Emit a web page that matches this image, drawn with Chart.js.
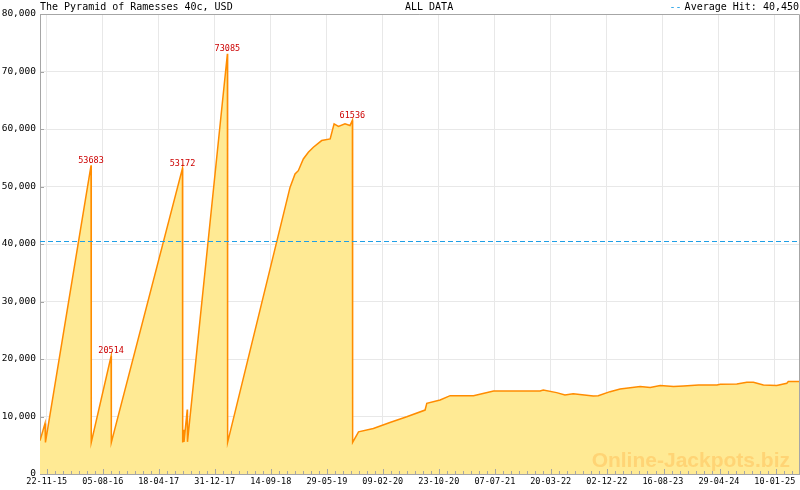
<!DOCTYPE html>
<html><head><meta charset="utf-8">
<script src="https://cdn.jsdelivr.net/npm/chart.js@4/dist/chart.umd.min.js"></script>
<style>html,body{margin:0;padding:0;background:#fff;}canvas{display:block;}</style>
</head><body>
<canvas id="c" width="800" height="490" style="width:800px;height:490px"></canvas>
<script>
const titleText = 'The Pyramid of Ramesses 40c, USD';
const rangeText = 'ALL DATA';
const averageText = 'Average Hit: 40,450';
const averageHit = 40450;
const watermarkText = 'Online-Jackpots.biz';
const tickLabels = ['22-11-15','05-08-16','18-04-17','31-12-17','14-09-18','29-05-19','09-02-20','23-10-20','07-07-21','20-03-22','02-12-22','16-08-23','29-04-24','10-01-25'];
const yTickValues = [0,10000,20000,30000,40000,50000,60000,70000,80000];
const dates = [
'2015-10-22','2015-11-14','2015-11-16','2016-06-12','2016-06-13','2016-09-12','2016-09-13','2017-08-05','2017-08-06','2017-08-10',
'2017-08-12','2017-08-27','2017-08-28','2018-02-27','2018-02-28','2018-12-11','2019-01-03','2019-01-18','2019-02-10','2019-03-05',
'2019-03-28','2019-05-05','2019-06-13','2019-07-01','2019-07-21','2019-08-20','2019-09-12','2019-09-23','2019-09-24','2019-10-21',
'2019-12-28','2020-03-13','2020-05-29','2020-08-21','2020-08-29','2020-10-29','2020-12-14','2021-03-31','2021-07-01','2021-09-30',
'2022-01-30','2022-02-14','2022-04-16','2022-05-24','2022-07-01','2022-10-01','2022-10-24','2022-12-17','2023-02-01','2023-05-04',
'2023-06-19','2023-08-04','2023-10-04','2023-11-19','2024-01-27','2024-04-20','2024-05-05','2024-07-20','2024-09-04','2024-10-04',
'2024-11-19','2025-01-19','2025-03-06','2025-03-13','2025-05-01'];
const values = [
5800,8800,5500,53683,5500,20514,5500,53172,5500,7700,
5600,11200,5600,73085,5500,49840,52170,52750,54790,55950,
56830,57990,58280,60900,60440,60900,60600,61536,5500,7340,
7920,8970,9960,11120,12280,12860,13620,13620,14440,14440,
14440,14620,14150,13740,13970,13560,13600,14320,14790,15200,
15030,15380,15200,15320,15490,15490,15610,15670,15960,15960,
15490,15380,15780,16070,16070];

const isoToMs = s => { const p = s.split('-').map(Number); return Date.UTC(p[0], p[1]-1, p[2]); };
const dmyToMs = s => { const p = s.split('-').map(Number); return Date.UTC(2000+p[2], p[1]-1, p[0]); };
const points = dates.map((d,i) => ({x: isoToMs(d), y: values[i]}));
const tickValues = tickLabels.map(dmyToMs);
const MONO = '"DejaVu Sans Mono", "Liberation Mono", monospace';
const GRID = '#e8e8e8';
const AXIS = '#a6a6a6';
const AVG = '#1f9fe6';

const extras = {
  id: 'extras',
  afterDatasetsDraw(chart) {
    const {ctx, chartArea: a, scales: {x, y}} = chart;
    ctx.save();
    // watermark
    ctx.font = 'bold 21px "Liberation Sans", Arial, sans-serif';
    ctx.fillStyle = 'rgba(255,196,96,0.6)';
    ctx.textAlign = 'right'; ctx.textBaseline = 'alphabetic';
    ctx.fillText(watermarkText, a.right - 9, a.bottom - 7);
    // average line
    const ay = Math.round(y.getPixelForValue(averageHit)) + 0.5;
    ctx.strokeStyle = AVG; ctx.lineWidth = 1; ctx.setLineDash([5,3]);
    ctx.beginPath(); ctx.moveTo(a.left, ay); ctx.lineTo(a.right, ay); ctx.stroke();
    ctx.setLineDash([]);
    // frame top/right
    ctx.strokeStyle = AXIS; ctx.lineWidth = 1;
    ctx.beginPath();
    ctx.moveTo(a.left, a.top + 0.5); ctx.lineTo(a.right + 0.5, a.top + 0.5);
    ctx.lineTo(a.right + 0.5, a.bottom);
    ctx.stroke();
    // x ticks major/minor inside the plot
    ctx.beginPath();
    const minor = (tickValues[1]-tickValues[0]) / 7;
    let v = tickValues[0];
    while (v - minor > x.min) { v -= minor; }
    for (; v <= x.max; v += minor) {
      const px = Math.round(x.getPixelForValue(v)) + 0.5;
      const isMajor = tickValues.some(t => Math.abs(t - v) < minor/2);
      const len = isMajor ? 5 : 3;
      ctx.moveTo(px, a.bottom); ctx.lineTo(px, a.bottom - len);
    }
    yTickValues.forEach(t => {
      const py = Math.round(y.getPixelForValue(t)) + 0.5;
      ctx.moveTo(a.left, py); ctx.lineTo(a.left + 4, py);
    });
    ctx.stroke();
    // peak labels
    ctx.font = '8.5px ' + MONO;
    ctx.fillStyle = '#cc0000';
    ctx.textAlign = 'center'; ctx.textBaseline = 'bottom';
    for (let i = 0; i < values.length - 1; i++) {
      if (values[i] - values[i+1] > 10000) {
        const px = x.getPixelForValue(points[i].x);
        const py = y.getPixelForValue(values[i]);
        ctx.fillText(String(values[i]), px, py - 0.5);
      }
    }
    ctx.restore();
  },
  afterDraw(chart) {
    const {ctx, chartArea: a} = chart;
    ctx.save();
    ctx.font = '10px ' + MONO;
    ctx.textBaseline = 'middle';
    ctx.fillStyle = '#000';
    ctx.textAlign = 'left';
    ctx.fillText(titleText, a.left, 7);
    ctx.fillText(rangeText, 405, 7);
    ctx.textAlign = 'right';
    ctx.fillText(averageText, a.right, 7);
    const w = ctx.measureText(averageText).width;
    ctx.fillStyle = AVG;
    ctx.fillText('--', a.right - w - 3, 7);
    ctx.restore();
  }
};

new Chart(document.getElementById('c'), {
  type: 'line',
  data: { datasets: [{
    data: points,
    borderColor: '#ff8c00',
    borderWidth: 1.5,
    backgroundColor: '#ffea94',
    fill: 'origin',
    pointRadius: 0,
    tension: 0
  }]},
  options: {
    responsive: false,
    animation: false,
    devicePixelRatio: 1,
    parsing: false,
    layout: { padding: { top: 14, right: 1, left: 0, bottom: 0 } },
    plugins: { legend: { display: false }, tooltip: { enabled: false } },
    scales: {
      x: {
        type: 'linear',
        min: points[0].x,
        max: points[points.length-1].x,
        afterBuildTicks: s => { s.ticks = tickValues.map(v => ({value: v})); },
        afterFit: s => { s.height = 16; },
        ticks: { autoSkip: false, maxRotation: 0, minRotation: 0, padding: 3, color: '#000',
          font: { family: MONO, size: 8.5 },
          callback: (val, idx) => tickLabels[idx] },
        grid: { color: GRID, drawTicks: false },
        border: { color: AXIS }
      },
      y: {
        min: 0, max: 80000,
        afterBuildTicks: s => { s.ticks = yTickValues.map(v => ({value: v})); },
        afterFit: s => { s.width = 40; },
        ticks: { padding: 4, color: '#000', font: { family: MONO, size: 9.5 },
          callback: v => v.toLocaleString('en-US') },
        grid: { color: GRID, drawTicks: false },
        border: { color: AXIS }
      }
    }
  },
  plugins: [extras]
});
</script>
</body></html>
